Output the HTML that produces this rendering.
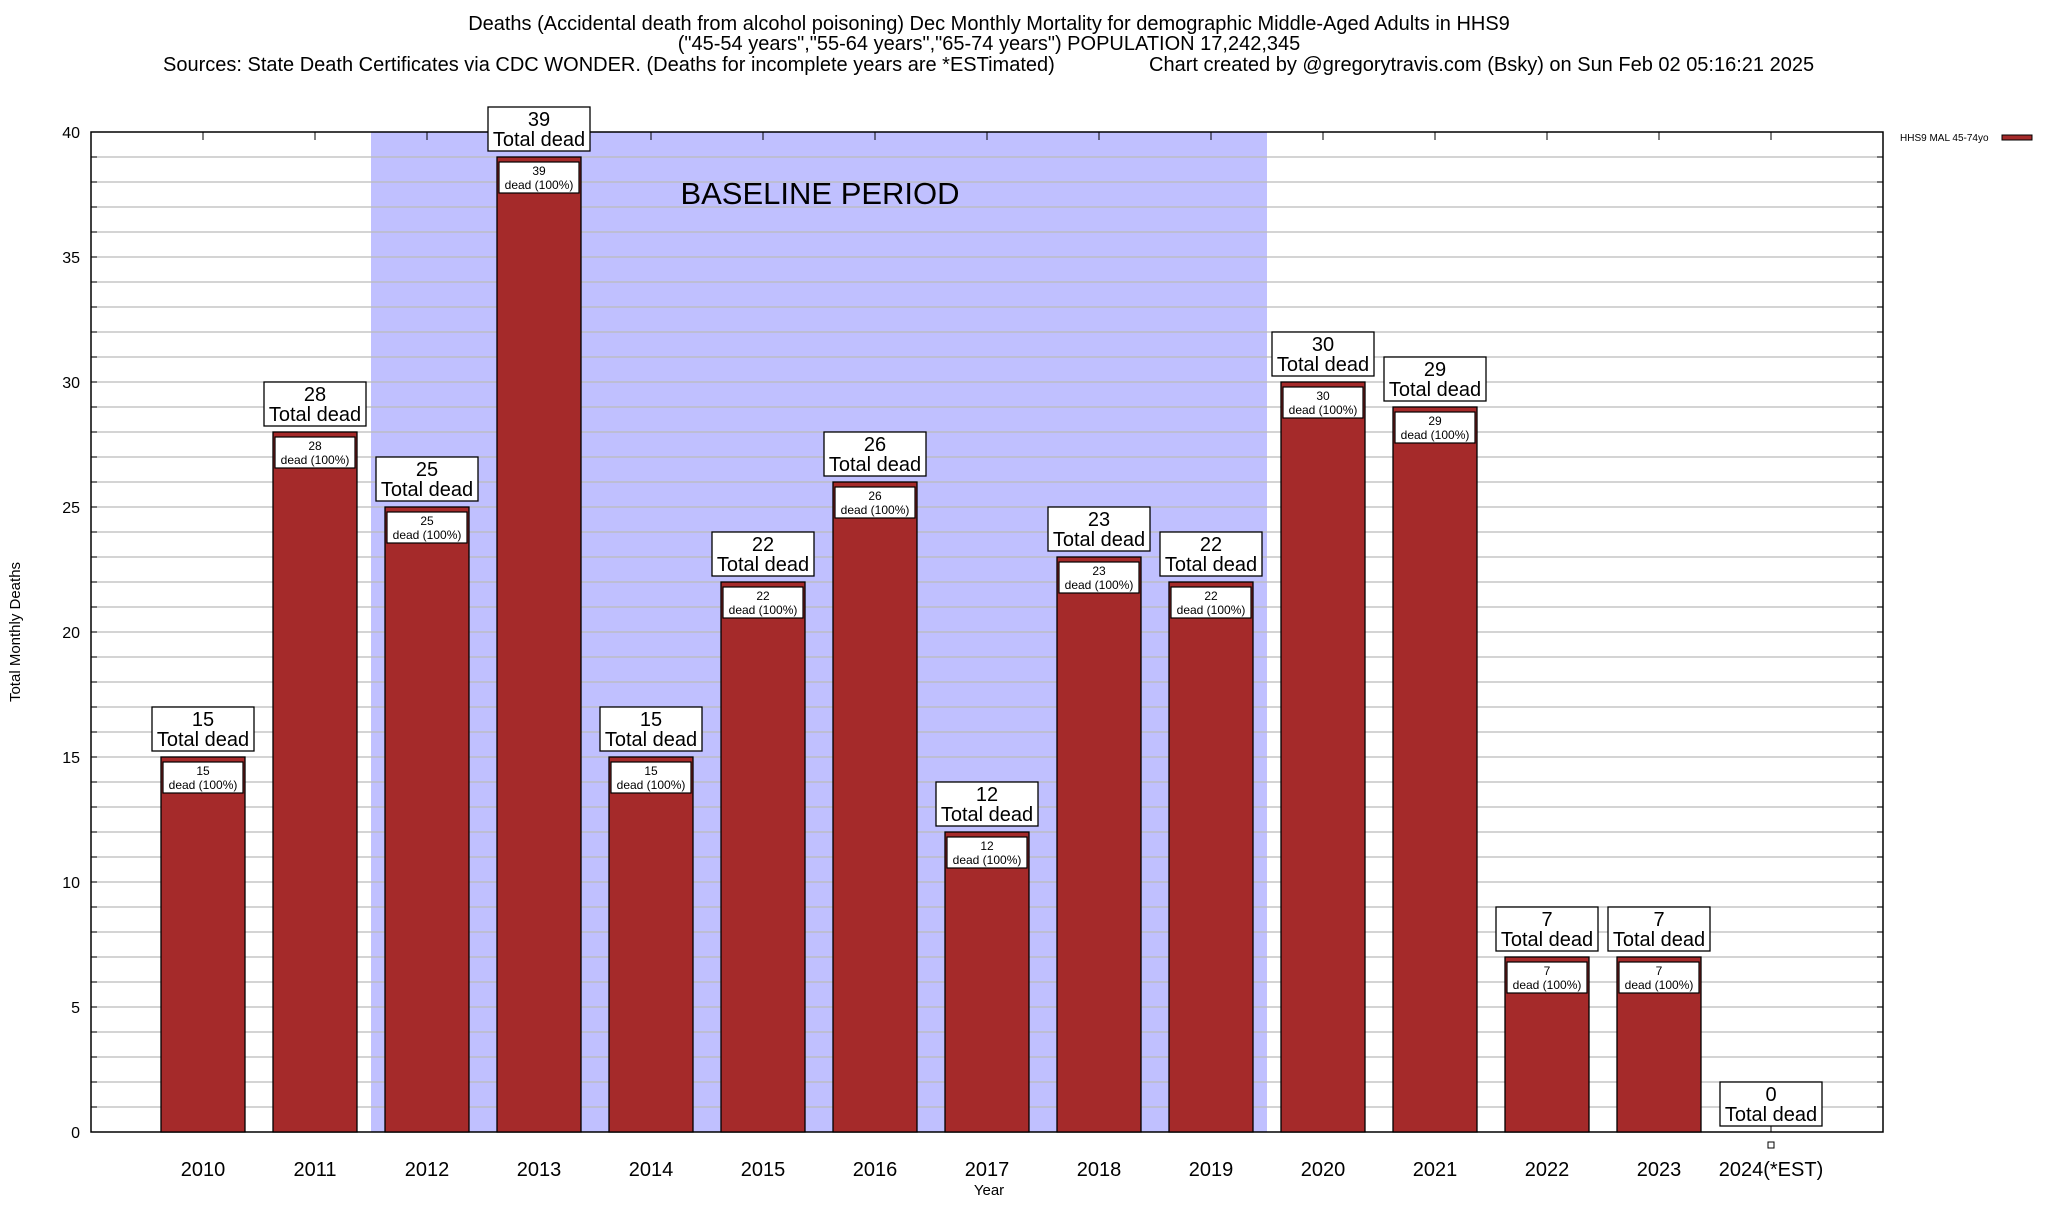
<!DOCTYPE html>
<html><head><meta charset="utf-8"><style>
body{margin:0;background:#fff;font-family:"Liberation Sans",sans-serif}
svg text{font-family:"Liberation Sans",sans-serif}
</style></head><body>
<svg id="chart" width="2048" height="1200" xmlns="http://www.w3.org/2000/svg">
<rect width="2048" height="1200" fill="#fff"/>
<text x="989" y="30" font-size="20" text-anchor="middle">Deaths (Accidental death from alcohol poisoning) Dec Monthly Mortality for demographic Middle-Aged Adults in HHS9</text>
<text x="989" y="50" font-size="20" text-anchor="middle">("45-54 years","55-64 years","65-74 years") POPULATION 17,242,345</text>
<text x="163" y="71" font-size="20">Sources: State Death Certificates via CDC WONDER. (Deaths for incomplete years are *ESTimated)</text>
<text x="1149" y="71" font-size="20">Chart created by @gregorytravis.com (Bsky) on Sun Feb 02 05:16:21 2025</text>
<g id="plot"></g>
<text x="1900" y="141" font-size="10">HHS9 MAL 45-74yo</text>
<rect x="2002" y="135" width="30" height="5" fill="#a52a2a" stroke="#000" stroke-width="1"/>
<text x="989" y="1195" font-size="15" text-anchor="middle">Year</text>
<text transform="translate(20,632) rotate(-90)" font-size="15" text-anchor="middle">Total Monthly Deaths</text>
</svg>
<script>
const categories = ["2010","2011","2012","2013","2014","2015","2016","2017","2018","2019","2020","2021","2022","2023","2024(*EST)"];
const deaths = [15,28,25,39,15,22,26,12,23,22,30,29,7,7,0];
const yTicks = [0,5,10,15,20,25,30,35,40];
const baselineStart = 2, baselineEnd = 9;

const L=91,R=1883,T=132,B=1132;
const xs = i => L + (i+1)*(R-L)/16;
const ys = v => B - v*(B-T)/40;
const NS="http://www.w3.org/2000/svg";
const g=document.getElementById('plot');
function mk(tag,attrs,parent){const e=document.createElementNS(NS,tag);for(const k in attrs)e.setAttribute(k,attrs[k]);(parent||g).appendChild(e);return e;}
let sh=mk('rect',{x:xs(baselineStart-0.5),y:T,width:xs(baselineEnd+0.5)-xs(baselineStart-0.5),height:B-T,fill:'#c0c0ff'});


for(let v=1;v<40;v++){
  let l=mk('line',{x1:L,x2:R,y1:ys(v),y2:ys(v),stroke:'#bbb','stroke-width':1.2});
  
  
  mk('line',{x1:L,x2:L+6,y1:ys(v),y2:ys(v),stroke:'#000'});
  mk('line',{x1:R-6,x2:R,y1:ys(v),y2:ys(v),stroke:'#000'});
}
yTicks.forEach(v=>{
  let t=mk('text',{x:L-11,y:ys(v)+6,'font-size':16,'text-anchor':'end'});t.textContent=v;
  
  
});
let bt=mk('text',{x:820,y:204,'font-size':31,'text-anchor':'middle'});bt.textContent='BASELINE PERIOD';


let fr=mk('rect',{x:L,y:T,width:R-L,height:B-T,fill:'none',stroke:'#000','stroke-width':1.5});


categories.forEach((c,i)=>{
  const cx=xs(i),v=deaths[i],bw=84;
  mk('line',{x1:cx,x2:cx,y1:B,y2:B-8,stroke:'#000'});
  mk('line',{x1:cx,x2:cx,y1:T,y2:T+8,stroke:'#000'});
  let xl=mk('text',{x:cx,y:1176,'font-size':20,'text-anchor':'middle'});xl.textContent=c;
  
  
  if(v>0){
    let b=mk('rect',{x:cx-bw/2,y:ys(v),width:bw,height:B-ys(v),fill:'#a52a2a',stroke:'#000','stroke-width':1.3});
    
    
    let ib=mk('rect',{x:cx-40,y:ys(v)+5,width:80,height:31,fill:'#fff',stroke:'#000','stroke-width':1.2});
    
    
    let t1=mk('text',{x:cx,y:ys(v)+18,'font-size':12,'text-anchor':'middle'});t1.textContent=v;
    
    
    let t2=mk('text',{x:cx,y:ys(v)+32,'font-size':12,'text-anchor':'middle'});t2.textContent='dead (100%)';
    
    
  } else {
    let m=mk('rect',{x:cx-3,y:1142,width:6,height:6,fill:'#fff',stroke:'#000'});
    
    
  }
  const by=Math.min(ys(v)-6,B-6);
  let ob=mk('rect',{x:cx-51,y:by-44,width:102,height:44,fill:'#fff',stroke:'#000','stroke-width':1.3});
  
  
  let o1=mk('text',{x:cx,y:by-25,'font-size':20,'text-anchor':'middle'});o1.textContent=v;
  
  
  let o2=mk('text',{x:cx,y:by-5,'font-size':20,'text-anchor':'middle'});o2.textContent='Total dead';
  
  
});
</script>
</body></html>
